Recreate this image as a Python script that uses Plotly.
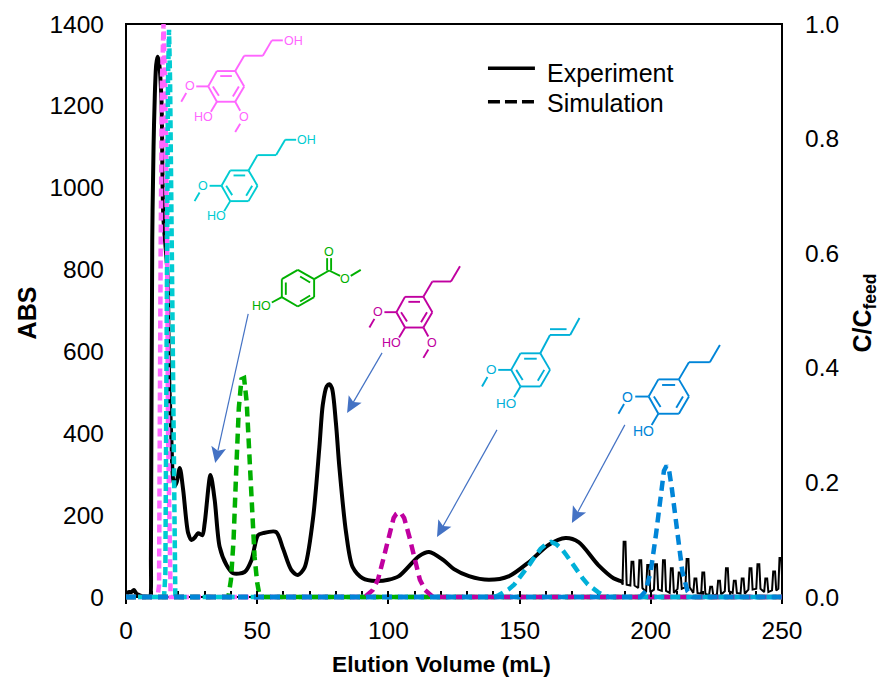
import math
import plotly.graph_objects as go

# ---------- data ----------
exp_x = [0, 0.5, 1, 2, 3, 4, 5, 6, 7, 9, 9.3, 9.5, 10, 10.5, 11, 11.5, 12, 12.5, 13.5, 14.2, 15.8, 16.4, 17.3, 17.9,
         18.6, 19.3, 20.5, 21.8, 23.7, 25, 26.3, 27.5, 29.1, 30, 32.2, 33.8, 35.7, 38.3, 40.8, 45.2, 47.8, 50.3, 52.2,
         57.2, 59.8, 63, 65.5, 68, 71.2, 73.7, 75, 76.5, 77.5, 78.5, 80, 81.3, 83.9, 86.4, 90.2, 95.3, 100, 104, 111.7,
         115.5, 121, 125, 130.7, 138.3, 146, 153.5, 161, 167.5, 172.5, 180, 185.8, 188.5, 189.4]
exp_y = [2, 8, 12, 12, 17, 8, 5, 2, 1, 1, 2, 100, 870, 1100, 1230, 1300, 1320, 1310, 1219, 933, 790, 547, 383, 291,
         271, 280, 315, 261, 156, 139, 146, 156, 151, 181, 298, 237, 122, 78, 58, 61, 90, 151, 156,
         159, 119, 66, 54, 71, 188, 366, 470, 515, 520, 510, 425, 318, 156, 73, 46, 39, 42, 51, 100,
         110, 90, 68, 51, 42, 51, 85, 127, 144, 134, 78, 46, 39, 36]

tail_peak_x = [190, 193, 196, 199, 202, 205, 208, 211, 214, 217, 220, 223, 226, 229, 232, 235, 238, 241, 244, 247, 249.4]
tail_peak_y = [135, 86, 90, 78, 80, 90, 70, 60, 93, 45, 60, 25, 40, 70, 40, 45, 70, 80, 45, 62, 95]
tail_low_y = [30, 28, 22, 12, 18, 15, 10, 20, 24, 10, 8, 4, 6, 14, 10, 8, 18, 20, 12, 16, 20]

pink_x = [0, 12, 12.6, 13, 13.2, 13.7, 14.3, 14.9, 15.4, 15.7, 16, 16.5, 17, 250]
pink_y = [0, 0, 0.02, 0.25, 0.6, 0.9, 1.0, 0.9, 0.72, 0.6, 0.3, 0.05, 0, 0]
cyan_x = [0, 14.5, 15, 15.3, 15.6, 16, 16.4, 16.8, 17.2, 17.5, 18, 18.4, 18.8, 250]
cyan_y = [0, 0, 0.04, 0.2, 0.55, 0.9, 0.99, 0.9, 0.7, 0.55, 0.216, 0.04, 0, 0]
green_x = [0, 39, 40, 41, 42, 43, 44, 45, 46, 47, 48, 49, 50, 51, 250]
green_y = [0, 0, 0.03, 0.1, 0.22, 0.33, 0.38, 0.382, 0.34, 0.25, 0.14, 0.07, 0.025, 0, 0]
purple_x = [0, 91, 94, 96, 98, 100, 102, 103, 104, 105, 106, 108, 110, 112, 114, 117, 250]
purple_y = [0, 0, 0.012, 0.03, 0.065, 0.105, 0.138, 0.145, 0.148, 0.145, 0.138, 0.105, 0.065, 0.03, 0.012, 0, 0]
sky_x = [0, 140, 142, 144, 146, 148, 150, 152, 154, 156, 158, 160, 162, 164, 166, 168, 170, 172, 174, 176, 178, 180,
         182, 184, 250]
sky_y = [0, 0, 0.003, 0.008, 0.014, 0.022, 0.033, 0.045, 0.058, 0.072, 0.084, 0.092, 0.096, 0.092, 0.084, 0.072,
         0.058, 0.045, 0.033, 0.022, 0.014, 0.008, 0.003, 0, 0]
blue_x = [0, 196, 198, 200, 202, 204, 205, 206, 207, 208, 210, 212, 214, 216, 250]
blue_y = [0, 0, 0.01, 0.045, 0.11, 0.19, 0.22, 0.229, 0.22, 0.19, 0.11, 0.045, 0.01, 0, 0]

x_ticks = [0, 50, 100, 150, 200, 250]
abs_ticks = [0, 200, 400, 600, 800, 1000, 1200, 1400]
c_ticks = [0.0, 0.2, 0.4, 0.6, 0.8, 1.0]

# ---------- layout constants ----------
W, H = 882, 678
L, R, T, B = 125.7, 782.3, 24.3, 597.0
# plot area runs EXTRA px below the zero line so the baseline dashes are not clipped
EXTRA = 5.0
B2 = B + EXTRA
Y_FRAC = EXTRA / (B - T)
PINK, CYAN, GREEN, PURPLE, SKY, BLUE = "#FF66FF", "#00CCD2", "#00B000", "#C000A0", "#00B0D8", "#0085D8"
FONT = "Liberation Sans, Arial, sans-serif"
ARROW = "#4472C4"


def px(x):
    return (x - L) / (R - L)


def py(y):
    return (B2 - y) / (B2 - T)


fig = go.Figure()

fig.add_trace(go.Scatter(x=exp_x, y=exp_y, mode="lines", name="Experiment", showlegend=False,
                         line=dict(color="black", width=4, shape="spline", smoothing=0.8)))

tail_x, tail_y = [], []
for xp, yp, yl in zip(tail_peak_x, tail_peak_y, tail_low_y):
    tail_x += [xp - 0.8, xp - 0.35, xp + 0.35, xp + 0.8]
    tail_y += [yl, yp, yp, yl]
fig.add_trace(go.Scatter(x=[exp_x[-1]] + tail_x, y=[exp_y[-1]] + tail_y, mode="lines", showlegend=False,
                         line=dict(color="black", width=2)))

for xs, ys, col, dash in [(pink_x, pink_y, PINK, "8px,4px"), (cyan_x, cyan_y, CYAN, "8px,4px"),
                          (green_x, green_y, GREEN, "10px,6px"), (purple_x, purple_y, PURPLE, "10px,6px"),
                          (sky_x, sky_y, SKY, "10px,6px"), (blue_x, blue_y, BLUE, "10px,6px")]:
    fig.add_trace(go.Scatter(x=xs, y=ys, yaxis="y2", mode="lines", showlegend=False, cliponaxis=False,
                             line=dict(color=col, width=4.5, dash=dash)))

# overlay axis: gives the major x ticks their inner half
fig.add_trace(go.Scatter(x=[0], y=[0], xaxis="x2", mode="markers", marker=dict(opacity=0), showlegend=False,
                         hoverinfo="skip"))

shapes, annotations = [], []

# frame of the plot, under the traces
shapes.append(dict(type="rect", xref="paper", yref="paper", x0=px(L), y0=py(B), x1=px(R), y1=py(T), layer="below",
                   line=dict(color="black", width=2), fillcolor="rgba(0,0,0,0)"))


def seg(p, q, col, w, dash=None):
    shapes.append(dict(type="line", xref="paper", yref="paper", x0=px(p[0]), y0=py(p[1]), x1=px(q[0]), y1=py(q[1]),
                       line=dict(color=col, width=w, dash=dash)))


def label(text, cx, cy, col, size):
    annotations.append(dict(text=text, xref="paper", yref="paper", x=px(cx), y=py(cy), showarrow=False,
                            xanchor="center", yanchor="middle", font=dict(color=col, size=size, family=FONT)))


RING = [(27, -46), (54, 0), (27, 46), (-28, 46), (-54, 0), (-28, -46)]
INNER = [((-18, -31), (17, -31)), ((-40, 0), (-22, 28)), ((20, 30), (38, 0))]
BOND = 1.9


def benzene_g(cx, cy, col, s, chain, double=None, end_oh=False, second_ome=False):
    """Draws the guaiacyl / syringyl skeleton. Inputs are in reference pixels; template units are 1/3 px."""
    f = s / 3.0

    def P(u):
        return (cx + u[0] * f, cy + u[1] * f)

    w = BOND
    for i in range(6):
        seg(P(RING[i]), P(RING[(i + 1) % 6]), col, w)
    for a, b in INNER:
        seg(P(a), P(b), col, w)
    seg(P((-54, 0)), P((-90, 0)), col, w)
    label("O", *P((-110, 0)), col, 12.5 * s)
    seg(P((-120, 20)), P((-135, 46)), col, w)
    seg(P((-28, 46)), P((-46, 76)), col, w)
    label("HO", *P((-68, 92)), col, 12.5 * s)
    if second_ome:
        seg(P((27, 46)), P((42, 73)), col, w)
        label("O", *P((54, 92)), col, 12.5 * s)
        seg(P((42, 112)), P((27, 137)), col, w)
    for a, b in zip(chain[:-1], chain[1:]):
        seg(P(a), P(b), col, w)
    if double:
        seg(P(double[0]), P(double[1]), col, w)
    if end_oh:
        seg(P(chain[-1]), P((chain[-1][0] + 33, chain[-1][1])), col, w)
        label("OH", *P((chain[-1][0] + 65, chain[-1][1] + 2)), col, 12.5 * s)


PROPYL = [(27, -46), (54, -92), (110, -92), (137, -138)]
PROPENYL = [(27, -46), (54, -97), (110, -97), (136, -144)]

benzene_g(120 + 318 / 3, 15 + 215 / 3, PINK, 1.0, PROPYL, end_oh=True, second_ome=True)
benzene_g(120 + 358 / 3, 15 + 513 / 3, CYAN, 1.0, PROPYL, end_oh=True)
benzene_g(340 + 223 / 3, 240 + 217 / 3, PURPLE, 1.0, PROPYL, second_ome=True)
benzene_g(340 + 572 / 3, 240 + 390 / 3, SKY, 1.08, PROPENYL, double=((54, -113), (100, -113)))
benzene_g(340 + 987 / 3, 240 + 470 / 3, BLUE, 1.12, PROPYL)


def G(u):
    return (120 + u[0] / 3, 240 + u[1] / 3)


for a, b in [((533, 90), (582, 118)), ((582, 118), (582, 172)), ((582, 172), (533, 200)), ((533, 200), (485, 172)),
             ((485, 172), (485, 118)), ((485, 118), (533, 90)), ((497, 128), (497, 165)), ((540, 110), (570, 128)),
             ((540, 185), (570, 167)), ((582, 118), (627, 92)), ((621, 92), (621, 55)), ((633, 92), (633, 55)),
             ((627, 92), (660, 108)), ((692, 108), (722, 90)), ((485, 172), (455, 188))]:
    seg(G(a), G(b), GREEN, BOND)
label("O", *G((627, 38)), GREEN, 12.5)
label("O", *G((675, 118)), GREEN, 12.5)
label("HO", *G((425, 198)), GREEN, 12.5)


# blue call-out arrows (start -> tip, reference pixels), drawn as line + notched head
def arrow(p, q, head=16.0, half=7.5, notch=12.5):
    ang = math.atan2(q[1] - p[1], q[0] - p[0])
    ux, uy = math.cos(ang), math.sin(ang)
    nx, ny = -uy, ux
    back = (q[0] - ux * notch, q[1] - uy * notch)
    seg(p, back, ARROW, 1.2)
    a = (q[0] - ux * head + nx * half, q[1] - uy * head + ny * half)
    b = (q[0] - ux * head - nx * half, q[1] - uy * head - ny * half)
    path = "M {} {} L {} {} L {} {} L {} {} Z".format(px(q[0]), py(q[1]), px(a[0]), py(a[1]), px(back[0]), py(back[1]),
                                                      px(b[0]), py(b[1]))
    shapes.append(dict(type="path", xref="paper", yref="paper", path=path, fillcolor=ARROW, line=dict(width=0)))


arrow((248, 314), (215, 463))
arrow((382, 353), (347, 413))
arrow((497, 430), (437, 537))
arrow((625, 425), (572, 523))

# legend key, drawn to the reference's exact row spacing
seg((488, 68.5), (535, 68.5), "black", 3.5)
seg((488, 102), (535, 102), "black", 3.5, dash="12px,5px")
annotations.append(dict(text="Experiment", xref="paper", yref="paper", x=px(545), y=py(73), showarrow=False,
                        xanchor="left", yanchor="middle", font=dict(size=25, color="black", family=FONT)))
annotations.append(dict(text="Simulation", xref="paper", yref="paper", x=px(545), y=py(103), showarrow=False,
                        xanchor="left", yanchor="middle", font=dict(size=25, color="black", family=FONT)))

# x axis title sits left of the plot centre in the reference
annotations.append(dict(text="<b>Elution Volume (mL)</b>", xref="paper", yref="paper", x=px(441.5), y=py(664),
                        showarrow=False, xanchor="center", yanchor="middle",
                        font=dict(size=22.7, color="black", family=FONT)))

fig.update_layout(
    width=W, height=H, margin=dict(l=L, r=W - R, t=T, b=H - B2, pad=0, autoexpand=False),
    paper_bgcolor="white", plot_bgcolor="white", font=dict(family=FONT, color="black", size=24),
    shapes=shapes, annotations=annotations, showlegend=False,
    xaxis=dict(range=[0, 250], tickvals=x_ticks, anchor="free", position=EXTRA / (B2 - T), showline=False,
               ticks="outside", ticklen=6, tickwidth=1.5, tickcolor="black", showgrid=False, zeroline=False,
               layer="below traces", ticklabelstandoff=6, tickfont=dict(size=24.5),
               minor=dict(ticks="inside", dtick=10, ticklen=6, tickwidth=1.5, tickcolor="black", showgrid=False)),
    xaxis2=dict(range=[0, 250], overlaying="x", side="bottom", anchor="free", position=EXTRA / (B2 - T),
                tickvals=x_ticks, ticks="inside", ticklen=6, tickwidth=1.5, tickcolor="black",
                showticklabels=False, showgrid=False, zeroline=False),
    yaxis=dict(range=[-1400 * Y_FRAC, 1400], tickvals=abs_ticks, showline=False,
               ticks="", showgrid=False, zeroline=False, layer="below traces", ticklabelstandoff=21,
               tickfont=dict(size=24.5),
               title=dict(text="<b>ABS</b>", font=dict(size=25), standoff=5)),
    yaxis2=dict(range=[-Y_FRAC, 1], overlaying="y", side="right", tickvals=c_ticks, tickformat=".1f", ticks="",
                showline=False, showgrid=False, zeroline=False, layer="below traces",
                ticklabelstandoff=22, tickfont=dict(size=24.5),
                title=dict(text="<b>C/C<sub>feed</sub></b>", font=dict(size=25), standoff=15)),
)

fig.write_html("out.html", post_script="document.body.style.margin='0';document.body.style.overflow='hidden';",
               config=dict(displayModeBar=False))
